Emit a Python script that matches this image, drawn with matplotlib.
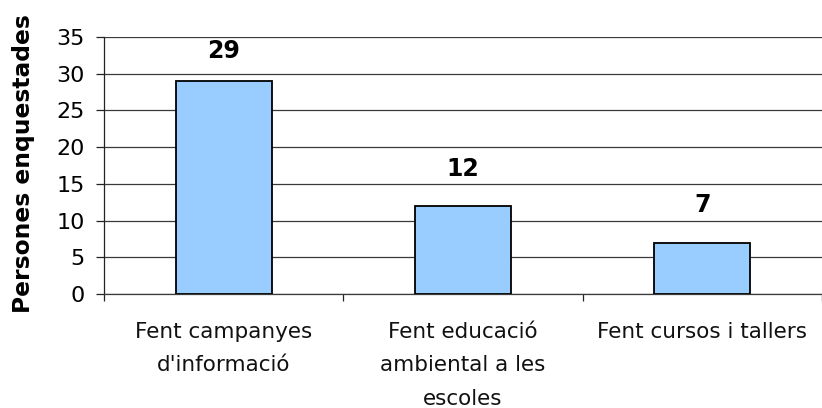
import matplotlib.pyplot as plt

# data
categories = ["Fent campanyes\nd'informació",
              "Fent educació\nambiental a les\nescoles",
              "Fent cursos i tallers"]
values = [29, 12, 7]
y_ticks = [0, 5, 10, 15, 20, 25, 30, 35]
y_label = "Persones enquestades"

plt.rcParams['font.family'] = ['DejaVu Sans']

fig = plt.figure(figsize=(8.22, 4.08), dpi=100)
ax = fig.add_axes([0.1265, 0.2794, 0.8735, 0.6299])

x = list(range(len(categories)))
ax.bar(x, values, width=0.4, color='#99CCFF', edgecolor='black', linewidth=1.3, zorder=3)

# value labels above bars (the tallest one is pulled down to stay inside the plot)
for xi, v in zip(x, values):
    ax.text(xi, min(v + 4.1, 32.1), str(v), ha='center', va='baseline',
            fontsize=17, fontweight='bold', zorder=4)

ax.set_xlim(-0.5, 2.48)
ax.set_ylim(0, 35)
ax.set_yticks(y_ticks)
ax.yaxis.grid(True, color='#3a3a3a', linewidth=0.9, zorder=0)
ax.set_axisbelow(True)

# categories centred, boundary ticks as minor ticks
ax.set_xticks(x)
ax.set_xticklabels(categories, fontsize=15.5, linespacing=1.85, color='#111111')
ax.set_xticks([-0.5, 0.5, 1.5, 2.5], minor=True)
ax.tick_params(axis='x', which='major', length=0, pad=20)
ax.tick_params(axis='x', which='minor', length=5, width=0.9, direction='out', color='#222222')
ax.tick_params(axis='y', length=6, width=0.9, direction='out', pad=8, labelsize=16, color='#222222')

for s in ['top', 'right']:
    ax.spines[s].set_visible(False)
ax.spines['left'].set_linewidth(0.9)
ax.spines['left'].set_color('#222222')
ax.spines['bottom'].set_linewidth(0.9)
ax.spines['bottom'].set_color('#3a3a3a')

fig.text(0.028, 0.6, y_label, rotation=90, ha='center', va='center',
         fontsize=16.8, fontweight='bold')

fig.savefig('out.png', dpi=100)
